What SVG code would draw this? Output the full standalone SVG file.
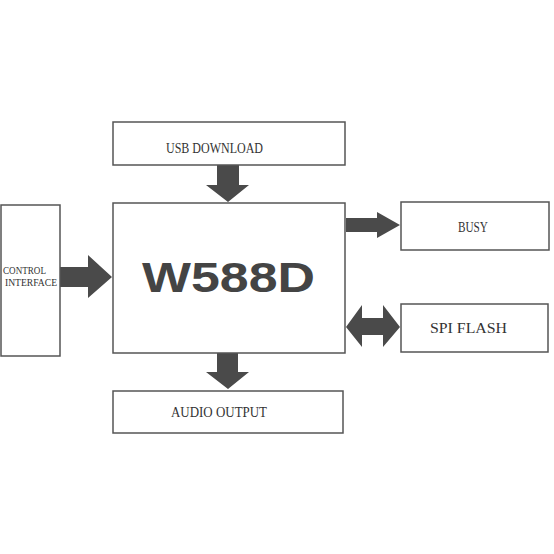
<svg xmlns="http://www.w3.org/2000/svg" width="554" height="554" viewBox="0 0 554 554">
<style>
.box{fill:#fff;stroke:#555;stroke-width:1.5}
.arr{fill:#4a4a4a}
.lbl{font-family:"Liberation Serif",serif;font-size:14px;fill:#333}
.small{font-family:"Liberation Serif",serif;font-size:10px;fill:#333}
.big{font-family:"Liberation Sans",Arial,sans-serif;font-size:42px;font-weight:bold;fill:#444}
</style>
<rect width="554" height="554" fill="#fff"/>
<g id="connectors">
<polygon class="arr" points="217,165 239,165 239,185 249,185 228,202 206,185 217,185"/>
<polygon class="arr" points="60,267 88,267 88,255 112,277 88,298 88,287 60,287"/>
<polygon class="arr" points="346,218 377,218 377,212 400,225 377,238 377,232 346,232"/>
<polygon class="arr" points="346,327 362,305 362,318 383,318 383,305 400,327 383,347 383,335 362,335 362,347"/>
<polygon class="arr" points="217,353 238,353 238,372 249,372 228,389 206,372 217,372"/>
</g>
<g id="usb">
<rect class="box" x="113" y="122" width="232" height="43"/>
<text class="lbl" x="166" y="153" textLength="97" lengthAdjust="spacingAndGlyphs">USB DOWNLOAD</text>
</g>
<g id="w588d">
<rect class="box" x="113" y="203" width="232" height="150"/>
<text class="big" x="142" y="292" textLength="173" lengthAdjust="spacingAndGlyphs">W588D</text>
</g>
<g id="control">
<rect class="box" x="1" y="205" width="59" height="151"/>
<text class="small" x="3" y="274" textLength="43" lengthAdjust="spacingAndGlyphs">CONTROL</text>
<text class="small" x="5" y="286" textLength="52" lengthAdjust="spacingAndGlyphs">INTERFACE</text>
</g>
<g id="busy">
<rect class="box" x="401" y="202" width="148" height="48"/>
<text class="lbl" x="458" y="232" textLength="30" lengthAdjust="spacingAndGlyphs">BUSY</text>
</g>
<g id="spi">
<rect class="box" x="401" y="304" width="147" height="48"/>
<text class="lbl" x="430" y="333" textLength="77" lengthAdjust="spacingAndGlyphs">SPI FLASH</text>
</g>
<g id="audio">
<rect class="box" x="113" y="391" width="230" height="42"/>
<text class="lbl" x="171" y="417" textLength="96" lengthAdjust="spacingAndGlyphs">AUDIO OUTPUT</text>
</g>
</svg>
